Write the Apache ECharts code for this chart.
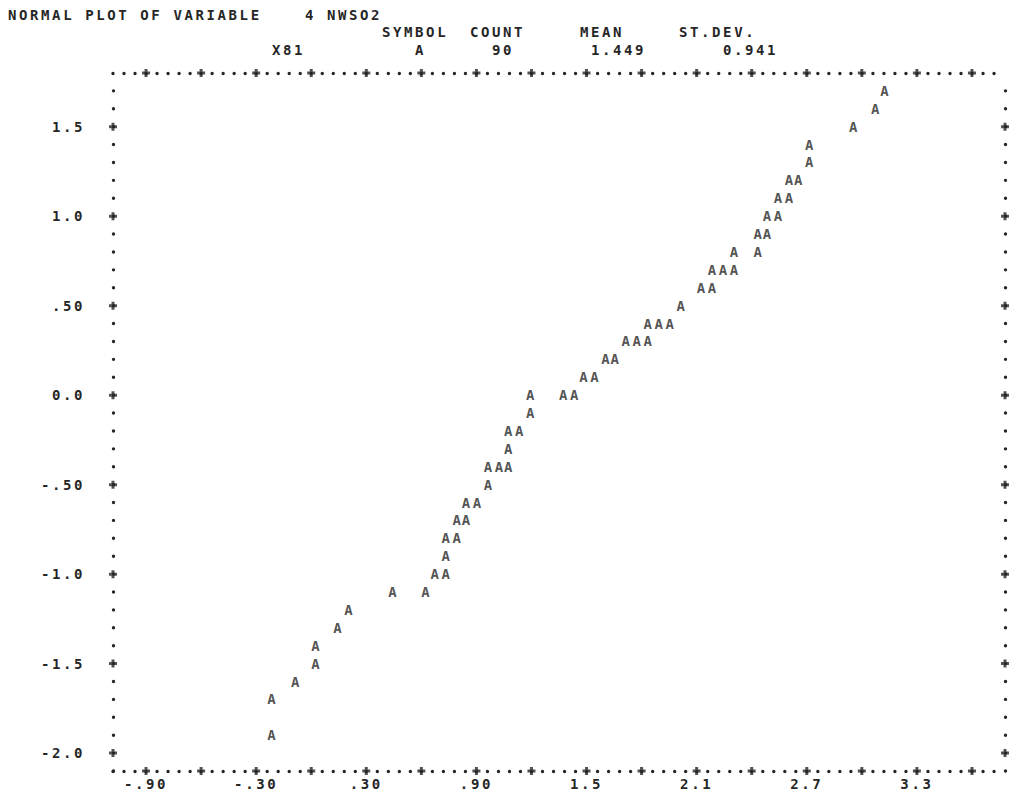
<!DOCTYPE html>
<html>
<head>
<meta charset="utf-8">
<script src="https://cdn.jsdelivr.net/npm/echarts@6/dist/echarts.min.js"></script>
<style>
  html, body { margin: 0; padding: 0; background: #ffffff; }
  #chart { width: 1025px; height: 795px; }
  /* line-printer pitch: every character cell is 11px wide */
  #chart svg text { letter-spacing: 2.6px; }
</style>
</head>
<body>
<div id="chart"></div>
<script>
// NWSO2 values (horizontal) paired with their expected normal scores (vertical)
const nwso2 = [-0.21, -0.21, -0.08, 0.03, 0.03, 0.15, 0.21, 0.45, 0.63, 0.68,
               0.74, 0.74, 0.74, 0.80, 0.80, 0.85, 0.85, 0.91, 0.97, 0.97,
               1.03, 1.08, 1.08, 1.08, 1.14, 1.20, 1.20, 1.38, 1.44, 1.49,
               1.55, 1.61, 1.66, 1.72, 1.78, 1.84, 1.84, 1.90, 1.96, 2.02,
               2.13, 2.19, 2.19, 2.25, 2.31, 2.31, 2.44, 2.44, 2.49, 2.49,
               2.55, 2.55, 2.61, 2.61, 2.66, 2.72, 2.72, 2.96, 3.08, 3.13];
const normalScore = [-1.9, -1.7, -1.6, -1.5, -1.4, -1.3, -1.2, -1.1, -1.1, -1.0,
                     -1.0, -0.9, -0.8, -0.8, -0.7, -0.7, -0.6, -0.6, -0.5, -0.4,
                     -0.4, -0.4, -0.3, -0.2, -0.2, -0.1, 0.0, 0.0, 0.0, 0.1,
                     0.1, 0.2, 0.2, 0.3, 0.3, 0.3, 0.4, 0.4, 0.4, 0.5,
                     0.6, 0.6, 0.7, 0.7, 0.7, 0.8, 0.8, 0.9, 0.9, 1.0,
                     1.0, 1.1, 1.1, 1.2, 1.2, 1.3, 1.4, 1.5, 1.6, 1.7];

// frame tick marks and tick labels
const xTickValues = [-0.9, -0.6, -0.3, 0.0, 0.3, 0.6, 0.9, 1.2, 1.5, 1.8, 2.1, 2.4, 2.7, 3.0, 3.3, 3.6];
const xLabelValues = [-0.9, -0.3, 0.3, 0.9, 1.5, 2.1, 2.7, 3.3];
const xLabelText = ['-.90', '-.30', '.30', '.90', '1.5', '2.1', '2.7', '3.3'];
const yTickValues = [-2.0, -1.5, -1.0, -0.5, 0.0, 0.5, 1.0, 1.5];
const yLabelText = ['-2.0', '-1.5', '-1.0', '-.50', '0.0', '.50', '1.0', '1.5'];

// header block
const headerTitle = 'NORMAL PLOT OF VARIABLE';
const headerVar = ['4', 'NWSO2'];
const headerCols = ['SYMBOL', 'COUNT', 'MEAN', 'ST.DEV.'];
const headerVals = ['X81', 'A', '90', '1.449', '0.941'];

// axis ranges (frame rows/columns of the printer grid)
const X_MIN = -1.08, X_MAX = 3.78, X_CELLS = 81;
const Y_MIN = -2.1, Y_MAX = 1.8, Y_CELLS = 39;

// layout
const W = 1025, H = 795;
const GRID = { left: 113, right: 20, top: 73, bottom: 24 };
const INK = '#262626';
const FONT_FAMILY = "'DejaVu Sans Mono', 'Liberation Mono', monospace";
const FONT_SIZE = 14;
const FONT = 'bold ' + FONT_SIZE + 'px ' + FONT_FAMILY;
const PITCH = 11;
const colX = c => 8 + PITCH * c;

const plotW = W - GRID.left - GRID.right;
const plotH = H - GRID.top - GRID.bottom;
const colStep = plotW / X_CELLS * (1 - 1e-6);
const rowStep = plotH / Y_CELLS * (1 - 1e-6);

function dotLine(step) {
  return { color: INK, width: 3.4, type: [0.001, step], cap: 'round' };
}
function labelFor(values, texts) {
  return v => {
    const i = values.findIndex(t => Math.abs(t - v) < 1e-6);
    return i >= 0 ? texts[i] : '';
  };
}

const points = nwso2.map((x, i) => [x, normalScore[i]]);
const plusMarks = [];
xTickValues.forEach(t => { plusMarks.push([t, Y_MIN]); plusMarks.push([t, Y_MAX]); });
yTickValues.forEach(t => { plusMarks.push([X_MIN, t]); plusMarks.push([X_MAX, t]); });

function headerText(str, col, y) {
  return { type: 'text', x: colX(col), y: y,
           style: { text: str, font: FONT, fill: INK, verticalAlign: 'middle', textVerticalAlign: 'middle' } };
}

const chart = echarts.init(document.getElementById('chart'), null, { renderer: 'svg', width: W, height: H });

chart.setOption({
  backgroundColor: '#ffffff',
  animation: false,
  grid: { left: GRID.left, right: GRID.right, top: GRID.top, bottom: GRID.bottom, containLabel: false },
  xAxis: [
    {
      type: 'value', position: 'bottom', min: X_MIN, max: X_MAX,
      axisLine: { show: true, onZero: false, lineStyle: dotLine(colStep) },
      axisTick: { show: false },
      splitLine: { show: false },
      axisLabel: {
        show: true, customValues: xLabelValues, formatter: labelFor(xLabelValues, xLabelText),
        margin: 6, color: INK, fontFamily: FONT_FAMILY, fontWeight: 'bold', fontSize: FONT_SIZE
      }
    },
    {
      type: 'value', position: 'top', min: X_MIN, max: X_MAX,
      axisLine: { show: true, onZero: false, lineStyle: dotLine(colStep) },
      axisTick: { show: false }, splitLine: { show: false }, axisLabel: { show: false }
    }
  ],
  yAxis: [
    {
      type: 'value', position: 'left', min: Y_MIN, max: Y_MAX,
      axisLine: { show: true, onZero: false, lineStyle: dotLine(rowStep) },
      axisTick: { show: false },
      splitLine: { show: false },
      axisLabel: {
        show: true, customValues: yTickValues, formatter: labelFor(yTickValues, yLabelText),
        margin: 28, color: INK, fontFamily: FONT_FAMILY, fontWeight: 'bold', fontSize: FONT_SIZE
      }
    },
    {
      type: 'value', position: 'right', min: Y_MIN, max: Y_MAX,
      axisLine: { show: true, onZero: false, lineStyle: dotLine(rowStep) },
      axisTick: { show: false }, splitLine: { show: false }, axisLabel: { show: false }
    }
  ],
  series: [
    {
      name: 'frame ticks', type: 'scatter', xAxisIndex: 0, yAxisIndex: 0, clip: false, silent: true,
      symbol: 'path://M2.5,0H5.5V2.5H8V5.5H5.5V8H2.5V5.5H0V2.5H2.5Z', symbolSize: 8,
      itemStyle: { color: INK },
      data: plusMarks
    },
    {
      name: 'A', type: 'scatter', xAxisIndex: 0, yAxisIndex: 0, clip: false, silent: true,
      symbol: 'circle', symbolSize: 0.1,
      itemStyle: { color: 'rgba(0,0,0,0)' },
      label: {
        show: true, position: 'inside', formatter: 'A',
        color: INK, fontFamily: FONT_FAMILY, fontWeight: 'bold', fontSize: FONT_SIZE
      },
      data: points
    }
  ],
  graphic: [
    headerText(headerTitle, 0, 15),
    headerText(headerVar[0], 27, 15),
    headerText(headerVar[1], 29, 15),
    headerText(headerCols[0], 34, 32),
    headerText(headerCols[1], 42, 32),
    headerText(headerCols[2], 52, 32),
    headerText(headerCols[3], 61, 32),
    headerText(headerVals[0], 24, 50),
    headerText(headerVals[1], 37, 50),
    headerText(headerVals[2], 44, 50),
    headerText(headerVals[3], 53, 50),
    headerText(headerVals[4], 65, 50)
  ]
});
</script>
</body>
</html>
